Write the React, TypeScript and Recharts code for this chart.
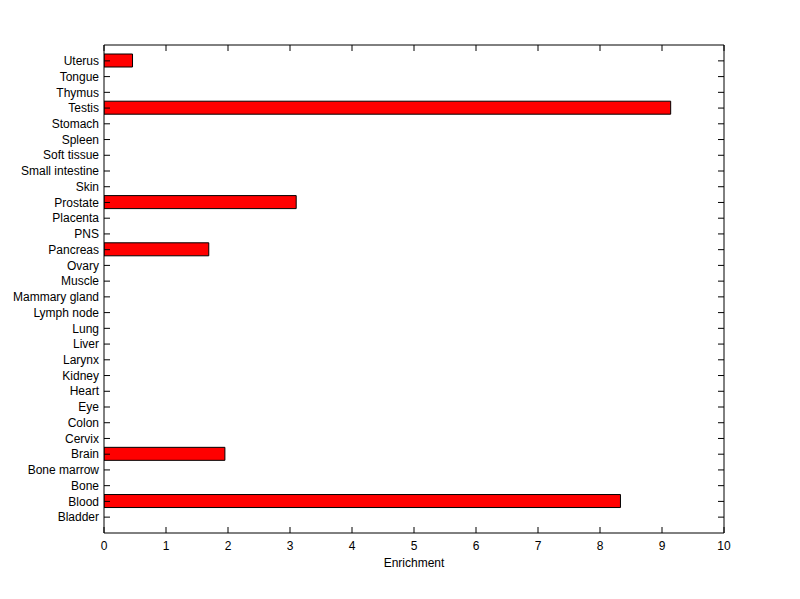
// Tissue enrichment - horizontal bar chart (MATLAB-style barh)

import { BarChart, Bar, XAxis, YAxis } from 'recharts'

// ============================================
// Data
// ============================================

const tissues = [
  'Bladder', 'Blood', 'Bone', 'Bone marrow', 'Brain', 'Cervix', 'Colon', 'Eye',
  'Heart', 'Kidney', 'Larynx', 'Liver', 'Lung', 'Lymph node', 'Mammary gland',
  'Muscle', 'Ovary', 'Pancreas', 'PNS', 'Placenta', 'Prostate', 'Skin',
  'Small intestine', 'Soft tissue', 'Spleen', 'Stomach', 'Testis', 'Thymus',
  'Tongue', 'Uterus',
]

const enrichment = [
  0, 8.33, 0, 0, 1.95, 0, 0, 0,
  0, 0, 0, 0, 0, 0, 0,
  0, 0, 1.69, 0, 0, 3.1, 0,
  0, 0, 0, 0, 9.14, 0,
  0, 0.46,
]

const xTicks = [0, 1, 2, 3, 4, 5, 6, 7, 8, 9, 10]

const chartData = tissues.map((name, i) => ({ name, value: enrichment[i] }))

// ============================================
// Styles
// ============================================

const FONT = '"Liberation Sans", Arial, Helvetica, sans-serif'
const lineStyle = { stroke: '#000', strokeWidth: 1 }
const TICK_LEN = 6

// ============================================
// Custom ticks (MATLAB draws tick marks inside the box)
// ============================================

function LeftTick({ x, y, payload }: any) {
  return (
    <g>
      <line x1={x} x2={x + TICK_LEN} y1={y} y2={y} stroke="#000" />
      <text x={x - 5} y={y} dy="0.35em" textAnchor="end" fontSize={12} fontFamily={FONT} fill="#000">
        {payload.value}
      </text>
    </g>
  )
}

function RightTick({ x, y }: any) {
  return <line x1={x - TICK_LEN} x2={x} y1={y} y2={y} stroke="#000" />
}

function BottomTick({ x, y, payload }: any) {
  return (
    <g>
      <line x1={x} x2={x} y1={y - TICK_LEN} y2={y} stroke="#000" />
      <text x={x} y={y + 17} textAnchor="middle" fontSize={12} fontFamily={FONT} fill="#000">
        {payload.value}
      </text>
    </g>
  )
}

function TopTick({ x, y }: any) {
  return <line x1={x} x2={x} y1={y} y2={y + TICK_LEN} stroke="#000" />
}

export default function App() {
  return (
    <div style={{ position: 'absolute', left: 0, top: 0, width: 800, height: 599, background: '#fff' }}>
      <BarChart
        width={800}
        height={599}
        data={chartData}
        layout="vertical"
        margin={{ top: 44, right: 75, bottom: 0, left: 0 }}
      >
        {/* bottom axis with labels */}
        <XAxis
          xAxisId="b"
          type="number"
          domain={[0, 10]}
          ticks={xTicks}
          allowDataOverflow
          orientation="bottom"
          height={66}
          tick={<BottomTick />}
          tickSize={0}
          tickMargin={0}
          axisLine={lineStyle}
          tickLine={false}
          label={{ value: 'Enrichment', position: 'insideBottom', offset: 32, fill: '#000', fontSize: 12, fontFamily: FONT }}
        />
        {/* top axis: box edge + inward ticks */}
        <XAxis
          xAxisId="t"
          type="number"
          domain={[0, 10]}
          ticks={xTicks}
          allowDataOverflow
          orientation="top"
          height={1}
          tick={<TopTick />}
          tickSize={0}
          tickMargin={0}
          axisLine={lineStyle}
          tickLine={false}
        />
        {/* left axis with tissue names */}
        <YAxis
          yAxisId="l"
          type="category"
          dataKey="name"
          reversed
          interval={0}
          width={104}
          padding={{ top: 8, bottom: 8 }}
          tick={<LeftTick />}
          tickSize={0}
          tickMargin={0}
          axisLine={lineStyle}
          tickLine={false}
        />
        {/* right axis: box edge + inward ticks */}
        <YAxis
          yAxisId="r"
          type="category"
          dataKey="name"
          orientation="right"
          reversed
          interval={0}
          width={1}
          padding={{ top: 8, bottom: 8 }}
          tick={<RightTick />}
          tickSize={0}
          tickMargin={0}
          axisLine={lineStyle}
          tickLine={false}
        />
        <Bar
          xAxisId="b"
          yAxisId="l"
          dataKey="value"
          fill="#ff0000"
          stroke="#000"
          strokeWidth={1}
          barSize={13}
          isAnimationActive={false}
        />
      </BarChart>
    </div>
  )
}
